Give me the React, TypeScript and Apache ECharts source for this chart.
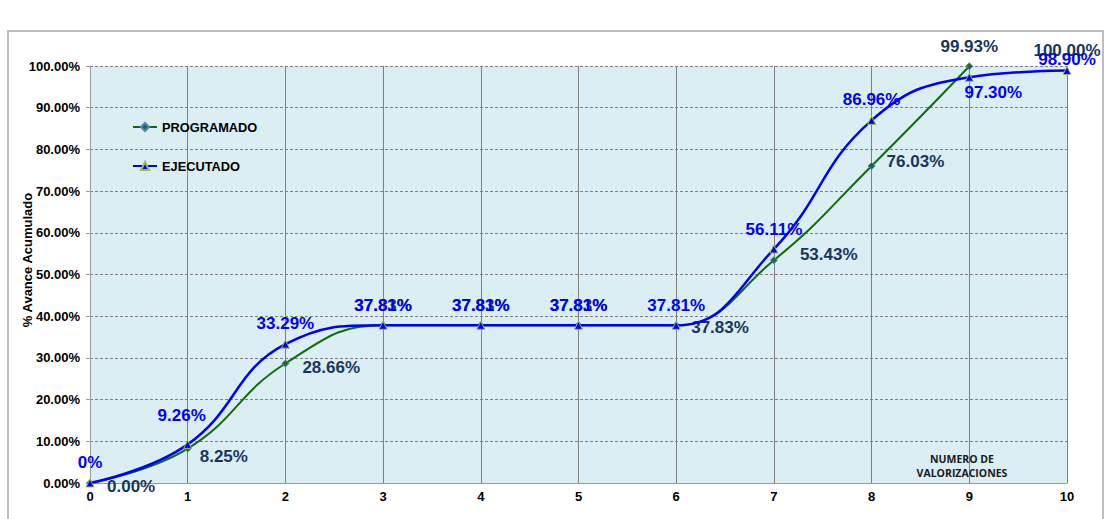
import React, { useEffect, useRef } from "react";
import * as echarts from "echarts";

const categories = ["0", "1", "2", "3", "4", "5", "6", "7", "8", "9", "10"];
const programado = [0, 8.25, 28.66, 37.83, 37.83, 37.83, 37.83, 53.43, 76.03, 99.93];
const programadoFinal = 100.0;
const ejecutado = [0, 9.26, 33.29, 37.81, 37.81, 37.81, 37.81, 56.11, 86.96, 97.3, 98.9];
const ejecutadoLabels = ["0%", "9.26%", "33.29%", "37.81%", "37.81%", "37.81%", "37.81%", "56.11%", "86.96%", "97.30%", "98.90%"];
const yTicks = [0, 10, 20, 30, 40, 50, 60, 70, 80, 90, 100];

// label placement (style config, not data)
const progLabelPlace: [string, number, number][] = [
  ["right", 8, 3],
  ["right", 3, 8],
  ["right", 8, 4],
  ["top", 0, -2],
  ["top", 0, -2],
  ["top", 0, -2],
  ["right", 6, 2],
  ["right", 17, -6],
  ["right", 6, -4],
  ["top", 0, -2],
];
const ejecLabelPlace: [string, number, number][] = [
  ["top", 0, -3],
  ["top", -6, -11],
  ["top", 0, -3],
  ["top", 0, -2],
  ["top", 0, -2],
  ["top", 0, -2],
  ["top", 0, -2],
  ["top", 0, -2],
  ["top", 0, -3],
  ["bottom", 24, -3],
  ["top", 0, 7],
];

const FONT = "'Liberation Sans', Arial, sans-serif";
const PROG_COLOR = "#17365D";
const EJEC_COLOR = "#0000FF";

export default function App() {
  const ref = useRef<HTMLDivElement>(null);
  useEffect(() => {
    if (!ref.current) return;
    const chart = echarts.init(ref.current, undefined, { renderer: "svg" });
    const labelBase = { show: true, fontFamily: FONT, fontWeight: "bold", fontSize: 17 };
    const progData = programado.map((v, i) => ({
      value: v,
      label: {
        ...labelBase,
        color: PROG_COLOR,
        position: progLabelPlace[i][0],
        offset: [progLabelPlace[i][1], progLabelPlace[i][2]],
        formatter: v.toFixed(2) + "%",
      },
    }));
    const ejecData = ejecutado.map((v, i) => ({
      value: v,
      label: {
        ...labelBase,
        color: EJEC_COLOR,
        position: ejecLabelPlace[i][0],
        offset: [ejecLabelPlace[i][1], ejecLabelPlace[i][2]],
        formatter: ejecutadoLabels[i],
      },
    }));
    chart.setOption({
      animation: false,
      textStyle: { fontFamily: FONT },
      grid: {
        left: 90,
        right: 48,
        top: 66,
        bottom: 36,
        show: true,
        backgroundColor: "#DAEEF3",
        borderWidth: 0,
      },
      legend: {
        orient: "vertical",
        left: 127,
        top: 115,
        itemWidth: 24,
        itemHeight: 10,
        itemGap: 25,
        data: ["PROGRAMADO", "EJECUTADO"],
        textStyle: { fontFamily: FONT, fontWeight: "bold", fontSize: 12.8, color: "#000", lineHeight: 14 },
      },
      xAxis: {
        type: "category",
        data: categories,
        boundaryGap: false,
        axisLine: { lineStyle: { color: "#9A9A9A", width: 1 } },
        axisTick: { show: false },
        axisLabel: { color: "#000", fontWeight: "bold", fontSize: 13, margin: 7, fontFamily: FONT },
        splitLine: { show: true, lineStyle: { color: "#7F7F7F", width: 1 } },
      },
      yAxis: {
        type: "value",
        min: yTicks[0],
        max: yTicks[yTicks.length - 1],
        interval: 10,
        axisLine: { show: true, lineStyle: { color: "#9A9A9A", width: 1 } },
        axisTick: { show: true, length: 4, lineStyle: { color: "#9A9A9A" } },
        axisLabel: {
          color: "#000",
          fontWeight: "bold",
          fontSize: 13,
          margin: 10,
          fontFamily: FONT,
          formatter: (v: number) => v.toFixed(2) + "%",
        },
        splitLine: { show: true, lineStyle: { color: "#7F7F7F", width: 1, type: [3, 2] } },
      },
      series: [
        {
          name: "PROGRAMADO",
          type: "line",
          smooth: 0.45,
          data: progData,
          symbol: "diamond",
          symbolSize: 7,
          lineStyle: { color: "#0B6E0B", width: 2 },
          itemStyle: { color: "#1E6B2E", borderColor: "#4F81BD", borderWidth: 1 },
          z: 3,
        },
        {
          name: "PROGRAMADO_FINAL",
          type: "scatter",
          data: [[categories[categories.length - 1], programadoFinal]],
          symbolSize: 0,
          itemStyle: { opacity: 1, color: PROG_COLOR },
          label: {
            ...labelBase,
            color: PROG_COLOR,
            position: "top",
            offset: [0, -2],
            formatter: programadoFinal.toFixed(2) + "%",
          },
          z: 3,
        },
        {
          name: "EJECUTADO",
          type: "line",
          smooth: 0.45,
          data: ejecData,
          symbol: "triangle",
          symbolSize: 8,
          lineStyle: { color: EJEC_COLOR, width: 2.5 },
          itemStyle: { color: EJEC_COLOR, borderColor: "#9BBB59", borderWidth: 1 },
          z: 4,
        },
      ],
      graphic: [
        {
          type: "rect",
          shape: { x: 8, y: 31, width: 1095, height: 520 },
          style: { fill: "none", stroke: "#BEBEBE", lineWidth: 2 },
          silent: true,
          z: -1,
        },
        {
          type: "text",
          x: 27,
          y: 260,
          rotation: Math.PI / 2,
          style: {
            text: "% Avance Acumulado",
            fontFamily: FONT,
            fontWeight: "bold",
            fontSize: 13,
            fill: "#000",
            align: "center",
            verticalAlign: "middle",
          },
        },
        {
          type: "text",
          x: 962,
          y: 466,
          style: {
            text: "NUMERO DE\nVALORIZACIONES",
            fontFamily: "'Open Sans', sans-serif",
            fontWeight: "bold",
            fontSize: 10.5,
            lineHeight: 14,
            fill: "#1a1a1a",
            align: "center",
            verticalAlign: "middle",
          },
          z: 10,
        },
      ],
    });
    return () => chart.dispose();
  }, []);
  return (
    <div
      ref={ref}
      style={{ position: "absolute", left: 0, top: 0, width: 1115, height: 519, background: "#fff" }}
    />
  );
}
